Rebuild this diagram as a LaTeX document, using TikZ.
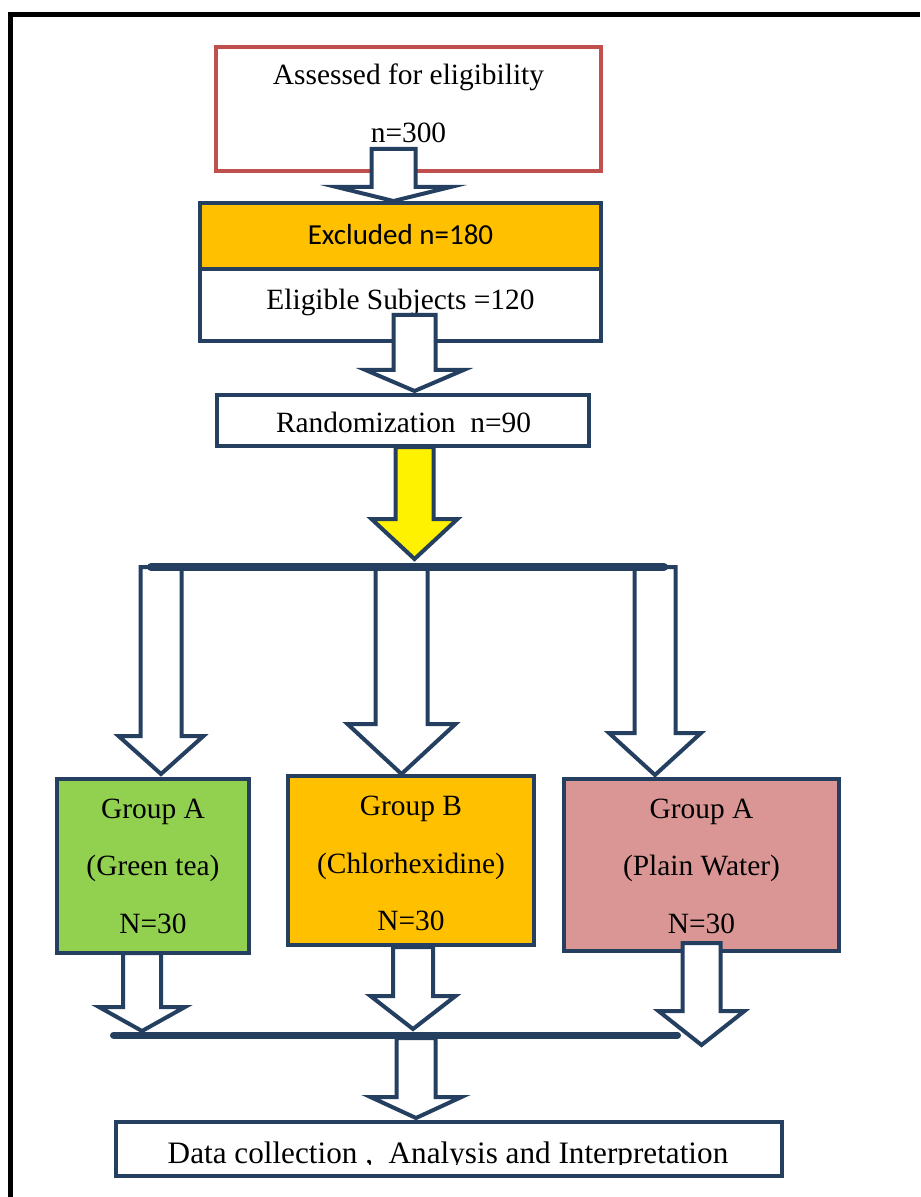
\documentclass[tikz,border=0pt]{standalone}
\usepackage{fontspec}
\setmainfont{Liberation Serif}
\newfontfamily\calibrifont{Carlito}
\usepackage{tikz}

\definecolor{boxblue}{HTML}{243F60}
\definecolor{boxred}{HTML}{C0504D}
\definecolor{boxorange}{HTML}{FFC000}
\definecolor{boxgreen}{HTML}{92D050}
\definecolor{boxpink}{HTML}{D99694}

\tikzset{
  flowbox/.style={draw=boxblue, line width=2.25pt, fill=white, inner sep=0pt},
  arrowline/.style={draw=boxblue, line width=2pt},
  barline/.style={draw=boxblue, line width=4pt, line cap=round},
  txt/.style={anchor=base, inner sep=0pt, font=\fontsize{14.7}{17}\selectfont}
}

% hollow block arrow: [fill]{cx}{top}{head}{tip}{half shaft}{half head}
\newcommand{\blockarrow}[7][white]{%
  \draw[arrowline, fill=#1] ({#2-#6},#3) -- ({#2-#6},#4) -- ({#2-#7},#4) -- (#2,#5)
    -- ({#2+#7},#4) -- ({#2+#6},#4) -- ({#2+#6},#3) -- cycle;}

\begin{document}
\begin{tikzpicture}[x=0.5pt,y=0.5pt,yscale=-1,xscale=1]
\useasboundingbox (0,0) rectangle (920,1197);

% outer frame
\draw[line width=2.75pt] (10.7,1197) -- (10.7,14.5) -- (920,14.5);

% boxes
\node[flowbox, draw=boxred, minimum width=192.5pt, minimum height=62pt] (assess) at (408.5,109) {};
\node[flowbox, fill=boxorange, minimum width=200.5pt, minimum height=33pt] (excl) at (400.5,236) {};
\node[flowbox, minimum width=200.5pt, minimum height=36pt] (elig) at (400.5,305) {};
\node[flowbox, minimum width=186pt, minimum height=25.5pt] (rand) at (403,420.5) {};
\node[flowbox, fill=boxgreen, minimum width=96pt, minimum height=87pt] (grpA) at (153,866) {};
\node[flowbox, fill=boxorange, minimum width=123pt, minimum height=84.5pt] (grpB) at (411,860.5) {};
\node[flowbox, fill=boxpink, minimum width=137.5pt, minimum height=86pt] (grpC) at (701.5,865) {};
\node[flowbox, minimum width=333pt, minimum height=27pt] (final) at (449,1149) {};

% texts
\node[txt] (assessT) at (408.5,85) {Assessed for eligibility};
\node[txt] (assessN) at (408.5,143) {n=300};
\node[txt, font=\calibrifont\fontsize{14.5}{17}\selectfont] (exclT) at (400.5,245) {Excluded n=180};
\node[txt] (eligT) at (400.5,310) {Eligible Subjects =120};
\node[txt] (randT) at (403.5,432) {Randomization\ \ n=90};
\node[txt] (grpAa) at (153,818) {Group A};
\node[txt] (grpAb) at (153,875) {(Green tea)};
\node[txt] (grpAc) at (153,933) {N=30};
\node[txt] (grpBa) at (411,815) {Group B};
\node[txt] (grpBb) at (411,873) {(Chlorhexidine)};
\node[txt] (grpBc) at (411,930) {N=30};
\node[txt] (grpCa) at (701.5,818) {Group A};
\node[txt] (grpCb) at (701.5,875) {(Plain Water)};
\node[txt] (grpCc) at (701.5,933) {N=30};
\begin{scope}
  \clip (116,1122) rectangle (782,1164);
  \node[txt, font=\fontsize{15.6}{18}\selectfont] (finalT) at (448,1163) {Data collection ,\ \ Analysis and Interpretation};
\end{scope}

% block arrows
\blockarrow{393.5}{149}{187}{201}{22}{57}
\blockarrow{414.5}{315}{370}{391}{21}{49}
\blockarrow[yellow]{414.5}{447}{519}{559}{19}{43}
\blockarrow{161}{567}{736}{774}{20.5}{42.5}
\blockarrow{401.5}{567}{724}{774}{26}{54}
\blockarrow{655}{567}{733}{775}{20.5}{46}
\blockarrow{142}{953}{1007}{1031}{19}{43}
\blockarrow{413}{947}{996}{1029}{20}{42.5}
\blockarrow{701.5}{943}{1011}{1045}{19}{43}
\blockarrow{416}{1038}{1097}{1118}{19.5}{45.5}

% split and merge bars
\coordinate (splitL) at (151,567);
\coordinate (splitR) at (664,567);
\coordinate (mergeL) at (113.5,1035);
\coordinate (mergeR) at (677.5,1035);
\draw[barline] (splitL) -- (splitR);
\draw[barline, line width=3.5pt] (mergeL) -- (mergeR);
\end{tikzpicture}
\end{document}
